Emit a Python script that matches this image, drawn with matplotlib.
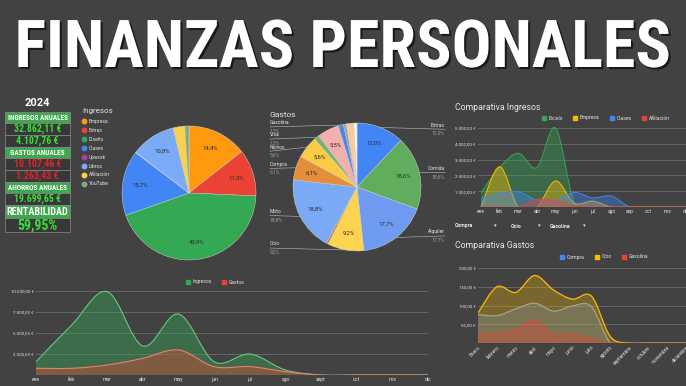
import numpy as np
import matplotlib
matplotlib.use('Agg')
import matplotlib.pyplot as plt
import matplotlib.patheffects as pe
from matplotlib.path import Path
from matplotlib.patches import PathPatch, Rectangle
from matplotlib.lines import Line2D

# ---- Datos ----
titulo = 'FINANZAS PERSONALES'
anio = '2024'
kpi_titulos = ['INGRESOS ANUALES', 'GASTOS ANUALES', 'AHORROS ANUALES', 'RENTABILIDAD']
kpi_ingresos = ['32.862,11 €', '4.107,76 €']
kpi_gastos = ['10.107,46 €', '1.263,43 €']
kpi_ahorros = ['19.699,65 €']
kpi_rentabilidad = '59,95%'

ing_cats = ['Empresa', 'Extras', 'Diseño', 'Clases', 'Upwork', 'Libros', 'Afiliación', 'YouTube']
ing_pct = [14.4, 11.3, 43.9, 15.7, 0.1, 10.8, 2.8, 1.0]
ing_cols = ['#ff9a0e', '#ea4335', '#34a853', '#4285f4', '#a0469a', '#7baaf7', '#fbd04c', '#7fae7a']

gas_cats = ['Extras', 'Comida', 'Alquiler', 'Ocio', '', 'Moto', 'Compra', 'Nichos', 'Visa', '',
            'Gasolina', '', '', '']
gas_pct = [12.0, 18.6, 17.7, 9.2, 0.5, 18.8, 6.1, 5.6, 1.3, 5.5, 1.3, 0.7, 1.9, 0.8]
gas_cols = ['#4285f4', '#60ad5e', '#6f9cf0', '#fdd451', '#c9772d', '#7aa9f5', '#e58e3a', '#fbcb43',
            '#76b36f', '#f3aeae', '#4a86e8', '#9aa0a6', '#f7c9a4', '#f5f5f5']

meses = ['ene', 'feb', 'mar', 'abr', 'may', 'jun', 'jul', 'ago', 'sep', 'oct', 'nov', 'dic']
meses_bajo = ['ene', 'feb', 'mar', 'abr', 'may', 'jun', 'jul', 'ago', 'sept', 'oct', 'nov', 'dic']
meses_largos = ['Enero', 'febrero', 'marzo', 'abril', 'mayo', 'junio', 'julio', 'agosto',
                'septiembre', 'octubre', 'noviembre', 'diciembre']

ci_series = ['Excels', 'Empresa', 'Clases', 'Afiliación']
ci_excels = [900, 2500, 3400, 2500, 5000, 300, 0, 0, 0, 0, 0, 0]
ci_empresa = [0, 2550, 0, 0, 1650, 250, 370, 0, 0, 0, 0, 0]
ci_clases = [550, 870, 950, 440, 400, 920, 580, 690, 0, 0, 0, 0]
ci_afiliacion = [0, 0, 0, 480, 380, 60, 0, 0, 0, 0, 0, 0]
ci_cols = ['#34a853', '#fbbc04', '#4285f4', '#ea4335']
filtros = ['Compra', 'Ocio', 'Gasolina']

cg_series = ['Compra', 'Ocio', 'Gasolina']
cg_compra = [76, 73, 91, 106, 85, 99, 97, 0, 0, 0, 0, 0]
cg_ocio = [80, 150, 135, 180, 141, 117, 125, 17, 0, 0, 0, 0]
cg_gasolina = [23, 26, 35, 62, 21, 24, 11, 0, 0, 0, 0, 0]
cg_cols = ['#4285f4', '#fbbc04', '#ea4335']

ingresos_mes = [1580, 5950, 9920, 3450, 7260, 1580, 2500, 600, 0, 0, 0, 0]
gastos_mes = [800, 800, 1190, 1990, 2980, 990, 1000, 400, 0, 0, 0, 0]

# ---- Estilo ----
W, H = 686, 386
FONDO = '#424242'
CLARO = '#e6e6e6'
GRIS = '#9e9e9e'
REJILLA = '#6c6c6c'
ESTRECHA = dict(family=['Roboto Condensed', 'DejaVu Sans'], stretch='condensed')
plt.rcParams['font.family'] = ['Roboto', 'DejaVu Sans']

fig = plt.figure(figsize=(W / 100, H / 100), dpi=100, facecolor=FONDO)
renderer = fig.canvas.get_renderer()


def ejes(x, y, w, h):
    ax = fig.add_axes([x / W, 1 - (y + h) / H, w / W, h / H])
    ax.set_facecolor('none')
    return ax


def fxy(x, y):
    return x / W, 1 - y / H


def ajustar(t, ancho, exacto=False):
    # reduce (o fija) el tamaño de letra para que el texto quepa en 'ancho' píxeles
    bb = t.get_window_extent(renderer)
    if exacto or bb.width > ancho:
        t.set_fontsize(t.get_fontsize() * ancho / bb.width)


def euros(v):
    s = f'{v:,.2f}'.replace(',', ' ').replace('.', ',').replace(' ', '.')
    return s + ' €'


def curva(ys):
    # Catmull-Rom -> Bezier para trazar curvas suaves entre los puntos
    p = np.column_stack([np.arange(len(ys)), ys]).astype(float)
    p = np.vstack([p[0], p, p[-1]])
    verts = [tuple(p[1])]
    codes = [Path.MOVETO]
    for i in range(1, len(p) - 2):
        c1 = p[i] + (p[i + 1] - p[i - 1]) / 6
        c2 = p[i + 1] - (p[i + 2] - p[i]) / 6
        verts += [tuple(c1), tuple(c2), tuple(p[i + 1])]
        codes += [Path.CURVE4] * 3
    return verts, codes


def area(ax, ys, color, alpha=0.4, lw=0.8, lcolor=None):
    verts, codes = curva(ys)
    n = len(ys) - 1
    fv = [(0, 0)] + verts + [(n, 0), (0, 0)]
    fc = [Path.MOVETO, Path.LINETO] + codes[1:] + [Path.LINETO, Path.CLOSEPOLY]
    ax.add_patch(PathPatch(Path(fv, fc), fc=color, alpha=alpha, lw=0))
    ax.add_patch(PathPatch(Path(verts, codes), fc='none', ec=lcolor or color, lw=lw))


def estilo_ejes(ax, yticks, xlabels, fs_y=3.2, fs_x=3.5):
    for s in ax.spines.values():
        s.set_visible(False)
    ax.set_yticks(yticks)
    ax.set_yticklabels([euros(v) for v in yticks])
    ax.set_xticks(range(len(xlabels)))
    ax.set_xticklabels(xlabels)
    ax.tick_params(length=0, colors=CLARO, pad=1.5)
    ax.tick_params(axis='y', labelsize=fs_y)
    ax.tick_params(axis='x', labelsize=fs_x)
    ax.yaxis.grid(True, color=REJILLA, lw=0.6)
    ax.set_axisbelow(True)
    ax.axhline(0, color='#8a8a8a', lw=0.6, zorder=0)


def leyenda(labels, cols, x, y, marker='s', **kw):
    hs = [Line2D([], [], marker=marker, ls='', color=c, markersize=3.2) for c in cols]
    opts = dict(loc='center left', bbox_to_anchor=fxy(x, y), frameon=False, fontsize=3.6,
                handlelength=0.8, handletextpad=0.5, borderpad=0, borderaxespad=0,
                labelcolor=CLARO, ncol=len(labels), columnspacing=2.1)
    opts.update(kw)
    fig.legend(hs, labels, **opts)


# ---- Titulo ----
tt = fig.text(0.5, 1 - 49 / H, titulo, ha='center', va='center', color='white', fontsize=40,
              fontweight='bold', **ESTRECHA,
              path_effects=[pe.withSimplePatchShadow(offset=(1.5, -1.5), shadow_rgbFace='black', alpha=0.6)])
ajustar(tt, 655, exacto=True)

# ---- Panel KPI ----
axk = ejes(0, 95, 110, 145)
axk.set_xlim(0, 110)
axk.set_ylim(240, 95)
axk.axis('off')
axk.text(37.5, 103, anio, ha='center', va='center', color='white', fontsize=8, fontweight='bold')
filas = [(kpi_titulos[0], 'h', 11)] + [(v, '#36e036', 12) for v in kpi_ingresos]
filas += [(kpi_titulos[1], 'h', 11)] + [(v, '#e52222', 12) for v in kpi_gastos]
filas += [(kpi_titulos[2], 'h', 11)] + [(v, '#36e036', 12) for v in kpi_ahorros]
filas += [(kpi_titulos[3], 'H', 13), (kpi_rentabilidad, 'V', 14)]
y = 112
for txt, tipo, alto in filas:
    cab = tipo in ('h', 'H')
    axk.add_patch(Rectangle((5, y), 65, alto, fc='#3da84d' if cab else '#383838', ec='#8a8a8a', lw=0.5))
    if cab:
        color, fs = 'white', (5.2 if tipo == 'h' else 7.6)
    else:
        color, fs = ('#36e036', 10) if tipo == 'V' else (tipo, 7)
    t = axk.text(37.5, y + alto / 2 + 0.3, txt, ha='center', va='center', color=color, fontsize=fs,
                 fontweight='bold', **ESTRECHA)
    ajustar(t, 61 if cab else 52)
    y += alto

# ---- Pie Ingresos ----
fig.text(*fxy(82, 111), 'Ingresos', color=CLARO, fontsize=5.8, va='center')
leyenda(ing_cats, ing_cols, 82, 122, marker='o', loc='upper left', ncol=1,
        bbox_to_anchor=fxy(82, 119), labelspacing=0.78)


def pct(p):
    return f'{p:.1f}%'.replace('.', ',') if p >= 5 else ''


axi = ejes(122, 126, 134, 134)
axi.pie(ing_pct, colors=ing_cols, startangle=90, counterclock=False, autopct=pct,
        pctdistance=0.74, wedgeprops=dict(lw=0.3, ec='#dddddd'),
        textprops=dict(fontsize=4.3, color='#2b2b2b'))
axi.set_xlim(-1, 1)
axi.set_ylim(-1, 1)

# ---- Pie Gastos ----
fig.text(*fxy(270, 115), 'Gastos', color=CLARO, fontsize=6, va='center')
axg = ejes(293, 123, 128, 128)
cunas, _, _ = axg.pie(gas_pct, colors=gas_cols, startangle=90, counterclock=False, autopct=pct,
                      pctdistance=0.74, wedgeprops=dict(lw=0.3, ec='#dddddd'),
                      textprops=dict(fontsize=4.3, color='#2b2b2b'))
axg.set_xlim(-1, 1)
axg.set_ylim(-1, 1)

# etiquetas exteriores: posicion segun el angulo de la cuña, separadas para no solaparse
etiquetas = []
for cuna, nombre, p in zip(cunas, gas_cats, gas_pct):
    if nombre:
        ang = np.deg2rad((cuna.theta1 + cuna.theta2) / 2)
        etiquetas.append([np.cos(ang), np.sin(ang), 0.97 * np.sin(ang), nombre, p])
for lado in (1, -1):
    grupo = sorted([e for e in etiquetas if np.sign(e[0]) == lado], key=lambda e: -e[2])
    for a, b in zip(grupo, grupo[1:]):
        b[2] = min(b[2], a[2] - 0.19)
for ex, ey, ly, nombre, p in etiquetas:
    lx = 1.375 if ex > 0 else -1.36
    ha = 'right' if ex > 0 else 'left'
    axg.plot([lx, ex], [ly, ey], color='#bdbdbd', lw=0.4, clip_on=False)
    axg.text(lx, ly + 0.025, nombre, ha=ha, va='bottom', fontsize=3.6, color=CLARO, clip_on=False)
    axg.text(lx, ly - 0.025, f'{p:.1f}%'.replace('.', ','), ha=ha, va='top', fontsize=3.6,
             color=GRIS, clip_on=False)

# ---- Comparativa Ingresos ----
fig.text(*fxy(455, 107), 'Comparativa Ingresos', color=CLARO, fontsize=6.3, va='center')
leyenda(ci_series, ci_cols, 542, 118)
axc = ejes(478, 125, 208, 82)
for serie, col in zip([ci_excels, ci_empresa, ci_clases, ci_afiliacion], ci_cols):
    area(axc, serie, col, alpha=0.4, lw=0.7)
axc.set_xlim(-0.16, 8.16)
axc.set_ylim(0, 5190)
estilo_ejes(axc, [1000, 2000, 3000, 4000, 5000], meses)
for nombre, xt, xf in zip(filtros, [455, 511, 550], [494, 538, 583]):
    fig.text(*fxy(xt, 226), nombre, color=CLARO, fontsize=3.8, fontweight='bold', va='center')
    fig.text(*fxy(xf, 226), '▾', color=CLARO, fontsize=3.8, va='center', family='DejaVu Sans')

# ---- Comparativa Gastos ----
fig.text(*fxy(455, 245), 'Comparativa Gastos', color=CLARO, fontsize=6.3, va='center')
leyenda(cg_series, cg_cols, 560, 257)
axd = ejes(478, 262, 208, 81)
area(axd, cg_compra, cg_cols[0], alpha=0.3, lw=0.9, lcolor='#7f9db4')
area(axd, cg_ocio, cg_cols[1], alpha=0.3, lw=0.9)
area(axd, cg_gasolina, cg_cols[2], alpha=0.35, lw=0.6)
axd.set_xlim(0, 8.35)
axd.set_ylim(0, 216)
estilo_ejes(axd, [50, 100, 150, 200], meses_largos)
for t in axd.get_xticklabels():
    t.set_rotation(45)
    t.set_ha('right')
    t.set_va('top')
    t.set_rotation_mode('anchor')

# ---- Ingresos vs Gastos ----
leyenda(['Ingresos', 'Gastos'], ['#34a853', '#ea4335'], 186, 282, columnspacing=2.0)
axb = ejes(36, 285, 392, 90)
area(axb, ingresos_mes, '#34a853', alpha=0.42, lw=0.8, lcolor='#6cc47c')
area(axb, gastos_mes, '#ea4335', alpha=0.4, lw=0.8, lcolor='#e8806f')
axb.set_xlim(0, 11)
axb.set_ylim(0, 10714)
estilo_ejes(axb, [2500, 5000, 7500, 10000], meses_bajo, fs_y=3.2, fs_x=3.6)

fig.savefig('out.png', dpi=100, facecolor=FONDO)
